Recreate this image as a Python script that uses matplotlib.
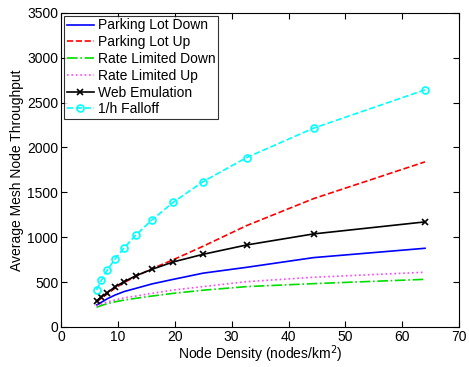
import matplotlib
matplotlib.use('Agg')
import matplotlib.pyplot as plt

plt.rcParams['font.family'] = ['Liberation Sans', 'DejaVu Sans']

density = [6.25, 7.1, 8.16, 9.47, 11.1, 13.2, 16.0, 19.75, 25.0, 32.65, 44.4, 64.0]

parking_down = [245, 275, 315, 355, 395, 431, 480, 531, 600, 665, 773, 877]
parking_up = [280, 320, 370, 430, 495, 565, 650, 750, 900, 1130, 1430, 1840]
rate_down = [219, 240, 260, 280, 300, 320, 345, 375, 410, 450, 483, 531]
rate_up = [235, 255, 280, 300, 325, 345, 375, 412, 450, 505, 554, 610]
web_emulation = [287, 334, 383, 446, 505, 572, 643, 725, 810, 914, 1037, 1171]
falloff = [412, 520, 635, 755, 881, 1026, 1193, 1390, 1620, 1888, 2215, 2642]

fig = plt.figure(figsize=(4.69, 3.67), dpi=100)
ax = fig.add_axes([0.130, 0.109, 0.849, 0.856])

ax.plot(density, parking_down, '-', color='blue', lw=1.2, label='Parking Lot Down')
ax.plot(density, parking_up, '--', color='red', lw=1.2, label='Parking Lot Up')
ax.plot(density, rate_down, '-.', color='#00dd00', lw=1.2, label='Rate Limited Down')
ax.plot(density, rate_up, ':', color='#ff44ff', lw=1.2, label='Rate Limited Up')
ax.plot(density, web_emulation, '-x', color='black', lw=1.2, ms=4, mew=1.2,
        label='Web Emulation')
ax.plot(density, falloff, '--o', color='cyan', lw=1.2, ms=5, mfc='none', mew=1.2,
        label='1/h Falloff')

ax.set_xlim(0, 70)
ax.set_ylim(0, 3500)
ax.set_xticks(range(0, 71, 10))
ax.set_yticks(range(0, 3501, 500))
ax.tick_params(direction='in', top=True, right=True, labelsize=10, length=4, pad=2)
ax.set_xlabel('Node Density (nodes/km$^2$)', fontsize=10, labelpad=0)
ax.set_ylabel('Average Mesh Node Throughput', fontsize=10, labelpad=2)

leg = ax.legend(loc='upper left', fontsize=10, frameon=True, fancybox=False,
                edgecolor='black', handlelength=1.95, borderaxespad=0.2,
                labelspacing=0.2, borderpad=0.2, handletextpad=0.3)
leg.get_frame().set_linewidth(0.8)

fig.savefig('out.png', dpi=100)
